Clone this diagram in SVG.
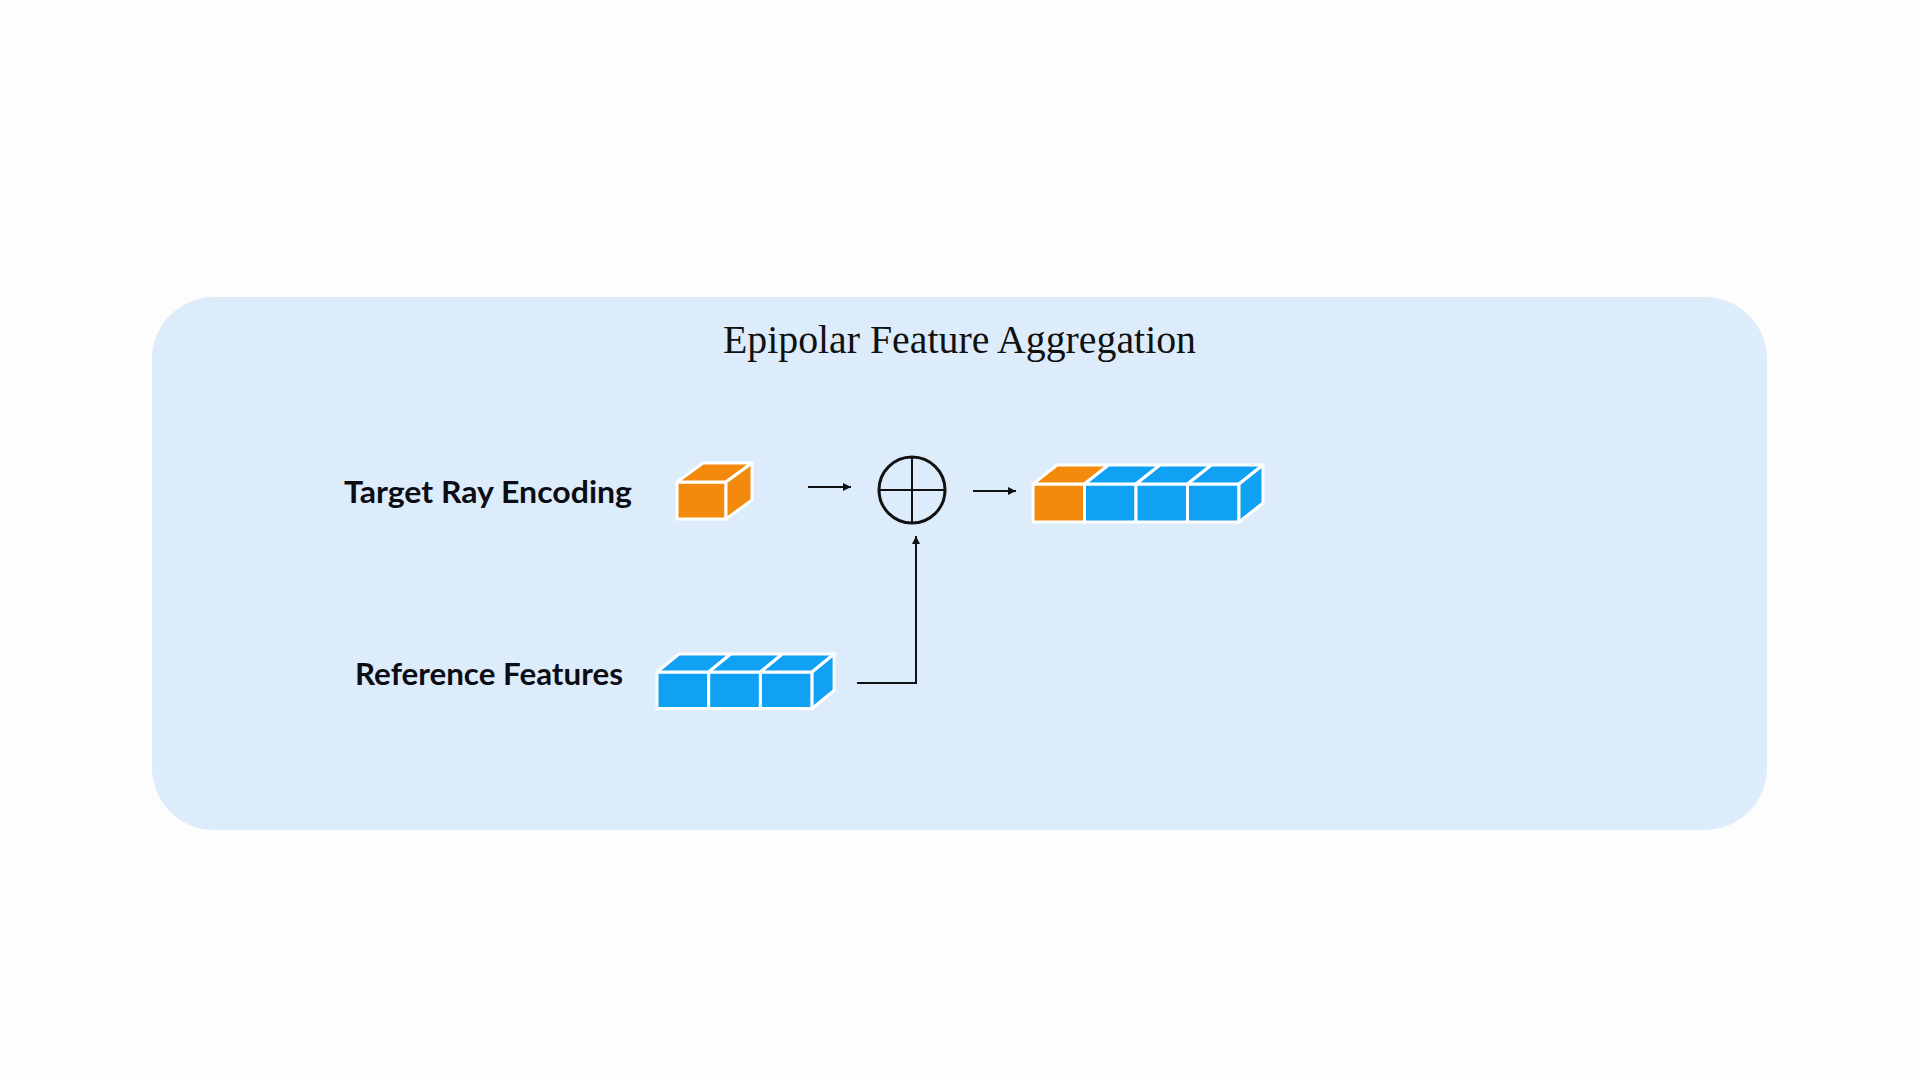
<svg xmlns="http://www.w3.org/2000/svg" width="1920" height="1080" viewBox="0 0 1920 1080">
  <defs>
    <style>
      .title { font-family: "Liberation Serif", "Times New Roman", serif; font-size: 41px; fill: #111; }
      .label { font-family: Lato, "Noto Sans", "Liberation Sans", sans-serif; font-weight: 700; font-size: 30px; fill: #0c0c14; }
      .orange { fill: #F38A0B; stroke: #ffffff; stroke-width: 3; stroke-linejoin: round; }
      .blue { fill: #10A0F4; stroke: #ffffff; stroke-width: 3; stroke-linejoin: round; }
      .conn { fill: none; stroke: #111; stroke-width: 2; }
    </style>
    <marker id="arrowL" viewBox="0 0 10 10" refX="10" refY="5" markerWidth="9" markerHeight="8" markerUnits="userSpaceOnUse" orient="auto">
      <path d="M0,0 L10,5 L0,10 Z" fill="#111"/>
    </marker>
  </defs>

  <rect x="0" y="0" width="1920" height="1080" fill="#fdfdfd"/>

  <g id="panel">
    <rect x="152" y="297" width="1615" height="533" rx="62" ry="62" fill="#DDECFB"/>
    <text class="title" x="959.5" y="353" text-anchor="middle" textLength="473" lengthAdjust="spacingAndGlyphs">Epipolar Feature Aggregation</text>
  </g>

  <g id="label-target">
    <text class="label" x="344" y="503" textLength="288" lengthAdjust="spacingAndGlyphs">Target Ray Encoding</text>
  </g>
  <g id="label-reference">
    <text class="label" x="355" y="685" textLength="268" lengthAdjust="spacingAndGlyphs">Reference Features</text>
  </g>

  <g id="target-cube">
    <rect class="orange" x="677" y="482" width="49" height="37"/>
    <polygon class="orange" points="677,482 703,463 752,463 726,482"/>
    <polygon class="orange" points="726,482 752,463 752,500 726,519"/>
  </g>

  <g id="reference-features">
    <rect class="blue" x="657" y="672" width="51.7" height="36.5"/>
    <rect class="blue" x="708.7" y="672" width="51.7" height="36.5"/>
    <rect class="blue" x="760.4" y="672" width="51.7" height="36.5"/>
    <polygon class="blue" points="657,672 679,654 730.7,654 708.7,672"/>
    <polygon class="blue" points="708.7,672 730.7,654 782.4,654 760.4,672"/>
    <polygon class="blue" points="760.4,672 782.4,654 834.1,654 812.1,672"/>
    <polygon class="blue" points="812.1,672 834.1,654 834.1,690.5 812.1,708.5"/>
  </g>

  <g id="sum-node">
    <circle cx="912" cy="490" r="33" fill="none" stroke="#111" stroke-width="3"/>
    <line x1="879" y1="490" x2="945" y2="490" stroke="#111" stroke-width="2"/>
    <line x1="912" y1="457" x2="912" y2="523" stroke="#111" stroke-width="2"/>
  </g>

  <g id="output-features">
    <rect class="orange" x="1033" y="484" width="51.5" height="38"/>
    <rect class="blue" x="1084.5" y="484" width="51.5" height="38"/>
    <rect class="blue" x="1136" y="484" width="51.5" height="38"/>
    <rect class="blue" x="1187.5" y="484" width="51.5" height="38"/>
    <polygon class="orange" points="1033,484 1057,465 1108.5,465 1084.5,484"/>
    <polygon class="blue" points="1084.5,484 1108.5,465 1160,465 1136,484"/>
    <polygon class="blue" points="1136,484 1160,465 1211.5,465 1187.5,484"/>
    <polygon class="blue" points="1187.5,484 1211.5,465 1263,465 1239,484"/>
    <polygon class="blue" points="1239,484 1263,465 1263,503 1239,522"/>
  </g>

  <g id="connectors">
    <line class="conn" x1="808" y1="487" x2="851" y2="487" marker-end="url(#arrowL)"/>
    <line class="conn" x1="973" y1="491" x2="1016" y2="491" marker-end="url(#arrowL)"/>
    <path class="conn" d="M857,683 H916 V536" marker-end="url(#arrowL)"/>
  </g>
</svg>
